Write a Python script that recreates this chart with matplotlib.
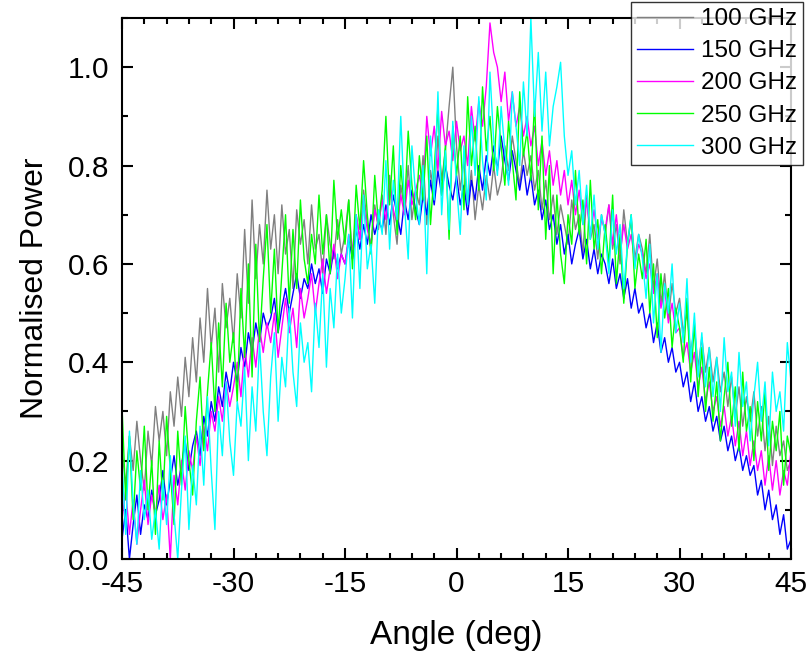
import numpy as np
import matplotlib
matplotlib.use("Agg")
import matplotlib.pyplot as plt
from matplotlib.ticker import MultipleLocator

plt.rcParams['font.family'] = ['Liberation Sans', 'DejaVu Sans']
plt.rcParams['axes.unicode_minus'] = False

# Angle grid (deg), step 0.5 from -45 to 45
angle = np.arange(-45, 45.01, 0.5)

labels = ["100 GHz", "150 GHz", "200 GHz", "250 GHz", "300 GHz"]
colors = ["#808080", "#0000FF", "#FF00FF", "#00FF00", "#00FFFF"]

p100 = [0.22, 0.15, 0.25, 0.18, 0.28, 0.20, 0.14, 0.26, 0.19, 0.31,
        0.24, 0.30, 0.21, 0.34, 0.27, 0.37, 0.29, 0.41, 0.33, 0.45,
        0.36, 0.49, 0.40, 0.55, 0.43, 0.51, 0.38, 0.56, 0.47, 0.53,
        0.44, 0.58, 0.49, 0.67, 0.52, 0.73, 0.57, 0.68, 0.60, 0.75,
        0.63, 0.70, 0.58, 0.72, 0.62, 0.67, 0.55, 0.71, 0.64, 0.69,
        0.60, 0.72, 0.63, 0.66, 0.58, 0.70, 0.64, 0.61, 0.69, 0.62,
        0.66, 0.73, 0.61, 0.70, 0.65, 0.75, 0.68, 0.63, 0.72, 0.67,
        0.74, 0.66, 0.78, 0.70, 0.64, 0.76, 0.71, 0.80, 0.69, 0.75,
        0.72, 0.82, 0.68, 0.79, 0.74, 0.86, 0.77, 0.83, 0.92, 1.00,
        0.84, 0.75, 0.81, 0.72, 0.79, 0.69, 0.76, 0.71, 0.78, 0.73,
        0.80, 0.74, 0.77, 0.84, 0.79, 0.86, 0.81, 0.76, 0.83, 0.78,
        0.82, 0.75, 0.79, 0.71, 0.77, 0.69, 0.74, 0.66, 0.72, 0.68,
        0.64, 0.73, 0.67, 0.70, 0.62, 0.74, 0.65, 0.68, 0.61, 0.70,
        0.66, 0.72, 0.63, 0.68, 0.60, 0.71, 0.64, 0.69, 0.61, 0.66,
        0.63, 0.58, 0.66, 0.55, 0.61, 0.52, 0.58, 0.49, 0.56, 0.50,
        0.53, 0.46, 0.50, 0.42, 0.47, 0.39, 0.45, 0.38, 0.43, 0.36,
        0.41, 0.34, 0.38, 0.31, 0.37, 0.29, 0.35, 0.27, 0.33, 0.28,
        0.34, 0.25, 0.31, 0.22, 0.29, 0.19, 0.27, 0.21, 0.24, 0.18,
        0.20]

p150 = [0.04, 0.10, 0.00, 0.07, 0.13, 0.05, 0.11, 0.08, 0.14, 0.09,
        0.12, 0.18, 0.11, 0.16, 0.21, 0.15, 0.19, 0.24, 0.18, 0.23,
        0.26, 0.21, 0.29, 0.25, 0.32, 0.28, 0.35, 0.31, 0.38, 0.34,
        0.40, 0.36, 0.43, 0.39, 0.46, 0.42, 0.48, 0.44, 0.50, 0.47,
        0.49, 0.53, 0.46, 0.51, 0.55, 0.50, 0.54, 0.58, 0.53, 0.57,
        0.55, 0.60, 0.56, 0.59, 0.54, 0.61, 0.58, 0.63, 0.59, 0.62,
        0.60, 0.65, 0.61, 0.67, 0.63, 0.68, 0.64, 0.70, 0.66, 0.69,
        0.67, 0.72, 0.68, 0.74, 0.70, 0.66, 0.73, 0.69, 0.75, 0.71,
        0.68, 0.74, 0.70, 0.77, 0.72, 0.79, 0.74, 0.80, 0.76, 0.73,
        0.78, 0.72, 0.76, 0.70, 0.77, 0.73, 0.80, 0.75, 0.82, 0.78,
        0.84, 0.79, 0.86, 0.81, 0.77, 0.83, 0.79, 0.75, 0.80, 0.74,
        0.78, 0.72, 0.75, 0.69, 0.73, 0.67, 0.70, 0.64, 0.68, 0.62,
        0.66, 0.60, 0.64, 0.67, 0.61, 0.65, 0.59, 0.63, 0.58, 0.62,
        0.60, 0.56, 0.61, 0.55, 0.58, 0.53, 0.57, 0.51, 0.55, 0.50,
        0.52, 0.47, 0.50, 0.44, 0.48, 0.42, 0.45, 0.40, 0.43, 0.38,
        0.40, 0.35, 0.38, 0.32, 0.36, 0.30, 0.33, 0.28, 0.31, 0.26,
        0.29, 0.24, 0.27, 0.22, 0.25, 0.20, 0.23, 0.18, 0.21, 0.17,
        0.19, 0.13, 0.16, 0.10, 0.14, 0.08, 0.11, 0.05, 0.09, 0.02,
        0.04]

p200 = [0.08, 0.14, 0.05, 0.12, 0.03, 0.10, 0.16, 0.07, 0.13, 0.09,
        0.15, 0.08, 0.13, 0.00, 0.17, 0.11, 0.20, 0.14, 0.22, 0.18,
        0.25, 0.19, 0.27, 0.22, 0.30, 0.26, 0.33, 0.28, 0.36, 0.31,
        0.35, 0.40, 0.33, 0.43, 0.37, 0.45, 0.39, 0.47, 0.42, 0.48,
        0.44, 0.50, 0.41, 0.47, 0.53, 0.46, 0.51, 0.43, 0.55, 0.49,
        0.53, 0.58, 0.50, 0.56, 0.61, 0.54, 0.59, 0.64, 0.57, 0.62,
        0.60, 0.66, 0.63, 0.70, 0.65, 0.72, 0.67, 0.64, 0.71, 0.68,
        0.73, 0.69, 0.76, 0.71, 0.68, 0.74, 0.70, 0.77, 0.72, 0.75,
        0.78, 0.74, 0.90, 0.82, 0.88, 0.79, 0.91, 0.84, 0.87, 0.81,
        0.89, 0.83, 0.86, 0.80, 0.92, 0.85, 0.93, 0.88, 0.96, 1.09,
        1.03, 1.00, 0.93, 0.99, 0.89, 0.95, 0.88, 0.92, 0.86, 0.90,
        0.84, 0.88, 0.80, 0.85, 0.78, 0.83, 0.76, 0.81, 0.74, 0.79,
        0.72, 0.77, 0.70, 0.75, 0.68, 0.73, 0.66, 0.71, 0.65, 0.69,
        0.67, 0.72, 0.64, 0.70, 0.62, 0.68, 0.63, 0.66, 0.60, 0.64,
        0.62, 0.57, 0.60, 0.54, 0.58, 0.51, 0.55, 0.48, 0.52, 0.46,
        0.47, 0.41, 0.44, 0.38, 0.42, 0.35, 0.39, 0.32, 0.36, 0.30,
        0.33, 0.27, 0.31, 0.25, 0.29, 0.23, 0.28, 0.21, 0.26, 0.19,
        0.24, 0.18, 0.22, 0.15, 0.21, 0.14, 0.20, 0.13, 0.18, 0.15,
        0.22]

p250 = [0.31, 0.12, 0.25, 0.08, 0.22, 0.14, 0.27, 0.10, 0.20, 0.05,
        0.24, 0.12, 0.29, 0.18, 0.07, 0.26, 0.15, 0.31, 0.20, 0.13,
        0.28, 0.37, 0.22, 0.34, 0.44, 0.30, 0.48, 0.35, 0.52, 0.40,
        0.46, 0.32, 0.55, 0.41, 0.60, 0.37, 0.64, 0.44, 0.57, 0.68,
        0.50, 0.63, 0.46, 0.58, 0.70, 0.52, 0.67, 0.55, 0.73, 0.61,
        0.56, 0.66, 0.60, 0.74, 0.62, 0.70, 0.58, 0.77, 0.65, 0.71,
        0.64, 0.73, 0.59, 0.76, 0.67, 0.81, 0.70, 0.62, 0.78, 0.68,
        0.75, 0.90, 0.72, 0.84, 0.66, 0.80, 0.71, 0.87, 0.76, 0.69,
        0.82, 0.73, 0.86, 0.68, 0.79, 0.92, 0.74, 0.84, 0.65, 0.88,
        0.78, 0.86, 0.71, 0.94, 0.80, 0.88, 0.75, 0.96, 0.83, 0.90,
        0.79, 0.92, 0.84, 0.76, 0.89, 0.81, 0.73, 0.95, 0.82, 0.87,
        0.77, 0.93, 0.71, 0.86, 0.65, 0.80, 0.58, 0.74, 0.62, 0.56,
        0.70, 0.64, 0.79, 0.66, 0.73, 0.60, 0.77, 0.63, 0.69, 0.58,
        0.68, 0.60, 0.74, 0.56, 0.66, 0.52, 0.64, 0.70, 0.55, 0.62,
        0.57, 0.65, 0.50, 0.60, 0.45, 0.58, 0.49, 0.55, 0.43, 0.51,
        0.47, 0.40, 0.53, 0.36, 0.48, 0.33, 0.43, 0.30, 0.39, 0.28,
        0.36, 0.24, 0.33, 0.40, 0.27, 0.35, 0.22, 0.38, 0.26, 0.31,
        0.20, 0.32, 0.24, 0.34, 0.18, 0.28, 0.22, 0.30, 0.15, 0.25,
        0.21]

p300 = [0.20, 0.05, 0.26, 0.11, 0.03, 0.18, 0.08, 0.14, 0.04, 0.10,
        0.02, 0.16, 0.07, 0.21, 0.09, 0.00, 0.14, 0.25, 0.06, 0.19,
        0.11, 0.27, 0.15, 0.33, 0.18, 0.06, 0.30, 0.21, 0.36, 0.24,
        0.17, 0.32, 0.27, 0.39, 0.20, 0.35, 0.26, 0.44, 0.30, 0.21,
        0.37, 0.46, 0.28, 0.41, 0.35, 0.51, 0.38, 0.31, 0.48, 0.40,
        0.44, 0.34, 0.52, 0.43, 0.58, 0.39, 0.55, 0.47, 0.62, 0.50,
        0.57, 0.66, 0.49, 0.70, 0.55, 0.74, 0.59, 0.64, 0.52, 0.71,
        0.66, 0.81, 0.63, 0.77, 0.69, 0.90, 0.72, 0.61, 0.84, 0.74,
        0.68, 0.80, 0.58, 0.86, 0.73, 0.95, 0.70, 0.83, 0.67, 0.89,
        0.76, 0.66, 0.84, 0.72, 0.90, 0.78, 0.94, 0.81, 0.73, 0.99,
        0.85, 0.78, 0.92, 0.83, 0.76, 0.95, 0.88, 0.80, 0.97, 0.86,
        1.10, 0.90, 1.03, 0.87, 0.99, 0.84, 0.92, 0.96, 1.01, 0.86,
        0.78, 0.83, 0.72, 0.79, 0.68, 0.76, 0.65, 0.74, 0.63, 0.70,
        0.66, 0.58, 0.71, 0.62, 0.68, 0.55, 0.64, 0.70, 0.59, 0.66,
        0.61, 0.53, 0.64, 0.48, 0.58, 0.42, 0.56, 0.50, 0.60, 0.46,
        0.52, 0.44, 0.57, 0.40, 0.50, 0.37, 0.46, 0.35, 0.43, 0.33,
        0.41, 0.30, 0.45, 0.34, 0.38, 0.27, 0.42, 0.31, 0.36, 0.24,
        0.33, 0.40, 0.28, 0.36, 0.23, 0.38, 0.30, 0.34, 0.26, 0.44,
        0.36]

series = [p100, p150, p200, p250, p300]

fig = plt.figure(figsize=(8.09, 6.55), dpi=100)
ax = fig.add_axes([0.1508, 0.1466, 0.827, 0.8259])

for vals, lab, col in zip(series, labels, colors):
    ax.plot(angle, vals, color=col, lw=1.0, label=lab)

ax.set_xlim(-45, 45)
ax.set_ylim(0, 1.1)
ax.xaxis.set_major_locator(MultipleLocator(15))
ax.xaxis.set_minor_locator(MultipleLocator(3))
ax.yaxis.set_major_locator(MultipleLocator(0.2))
ax.yaxis.set_minor_locator(MultipleLocator(0.1))
ax.yaxis.set_major_formatter(matplotlib.ticker.FormatStrFormatter('%.1f'))
ax.tick_params(which='both', direction='in', top=True, right=True, width=1.5)
ax.tick_params(which='major', length=8, labelsize=21.5)
ax.tick_params(axis='y', which='major', pad=9)
ax.tick_params(axis='x', which='major', pad=8)
ax.tick_params(which='minor', length=4)
for s in ax.spines.values():
    s.set_linewidth(1.5)

ax.set_xlabel("Angle (deg)", fontsize=24, labelpad=16)
ax.set_ylabel("Normalised Power", fontsize=23, labelpad=13)

leg = fig.legend(loc='upper right', bbox_to_anchor=(0.993, 0.997), fontsize=17.5,
                 frameon=True, fancybox=False, handlelength=2.3,
                 borderpad=0.25, labelspacing=0.42, handletextpad=0.35,
                 borderaxespad=0.0)
leg.get_frame().set_edgecolor('black')
leg.get_frame().set_linewidth(1.0)

fig.savefig("out.png", dpi=100)
